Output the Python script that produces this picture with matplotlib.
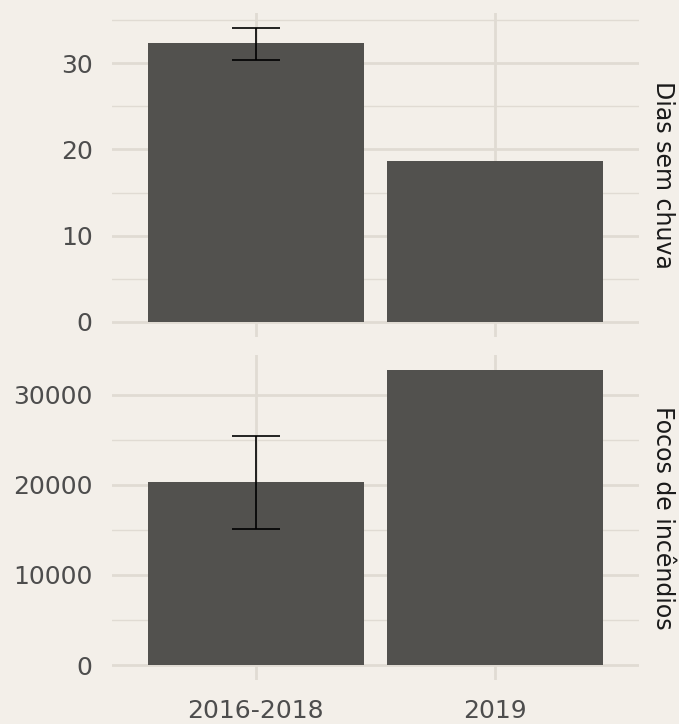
import numpy as np
import matplotlib.pyplot as plt

# dados
periodos = ['2016-2018', '2019']
dias_sem_chuva = [32.3, 18.6]
dias_erro_baixo = [30.4, np.nan]
dias_erro_alto = [34.1, np.nan]
focos = [20300, 32700]
focos_erro_baixo = [15100, np.nan]
focos_erro_alto = [25400, np.nan]
paineis = ['Dias sem chuva', 'Focos de incêndios']

fundo = '#F3EFE9'
cor_barra = '#52514E'
cor_grade = '#E0DBD3'

plt.rcParams['font.family'] = ['DejaVu Sans']

fig = plt.figure(figsize=(6.79, 7.24), dpi=100, facecolor=fundo)
ax1 = fig.add_axes([0.165, 0.535, 0.776, 0.447])
ax2 = fig.add_axes([0.165, 0.061, 0.776, 0.448])

dados = [
    (ax1, dias_sem_chuva, dias_erro_baixo, dias_erro_alto, [0, 10, 20, 30], [5, 15, 25, 35]),
    (ax2, focos, focos_erro_baixo, focos_erro_alto, [0, 10000, 20000, 30000], [5000, 15000, 25000]),
]

x = np.arange(1, len(periodos) + 1)
for i, (ax, valores, baixo, alto, maiores, menores) in enumerate(dados):
    ax.set_facecolor(fundo)
    topo = np.nanmax([np.nanmax(valores), np.nanmax(alto)])
    ax.set_ylim(-0.05 * topo, 1.05 * topo)
    ax.set_xlim(0.4, len(periodos) + 0.6)
    for m in menores:
        ax.axhline(m, color=cor_grade, lw=1.0, zorder=0)
    for m in maiores:
        ax.axhline(m, color=cor_grade, lw=2.0, zorder=0)
    for xi in x:
        ax.axvline(xi, color=cor_grade, lw=2.0, zorder=0)
    ax.bar(x, valores, width=0.9, color=cor_barra, zorder=2)
    baixo = np.array(baixo, dtype=float)
    alto = np.array(alto, dtype=float)
    ok = ~np.isnan(baixo)
    meio = (baixo + alto) / 2
    ax.errorbar(x[ok], meio[ok], yerr=[(meio - baixo)[ok], (alto - meio)[ok]],
                fmt='none', ecolor='black', elinewidth=1.2, capsize=17, capthick=1.2, zorder=3)
    ax.set_yticks(maiores)
    ax.set_yticklabels([str(v) for v in maiores])
    ax.set_xticks(x)
    if i == 1:
        ax.set_xticklabels(periodos)
    else:
        ax.set_xticklabels([])
    ax.tick_params(length=0, labelsize=18, labelcolor='#4D4D4D')
    ax.tick_params(axis='y', pad=14)
    ax.tick_params(axis='x', pad=14)
    for s in ax.spines.values():
        s.set_visible(False)
    ax.text(1.022, 0.5, paineis[i], transform=ax.transAxes, rotation=-90,
            ha='left', va='center', fontsize=17, color='#1A1A1A')

fig.savefig('out.png', dpi=100, facecolor=fundo)
